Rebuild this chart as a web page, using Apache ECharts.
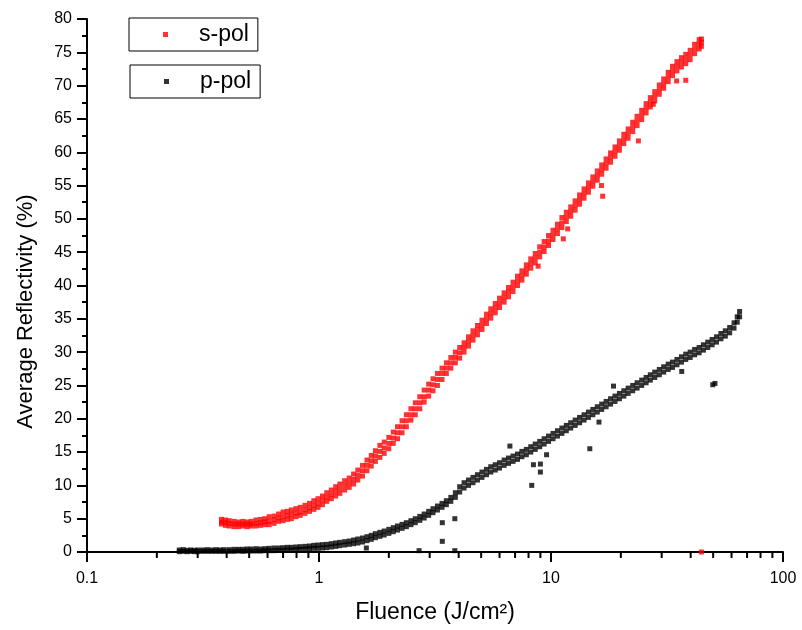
<!DOCTYPE html>
<html>
<head>
<meta charset="utf-8">
<script src="https://cdn.jsdelivr.net/npm/echarts@6/dist/echarts.min.js"></script>
<style>
html,body{margin:0;padding:0;background:#fff;}
#chart{width:802px;height:630px;}
</style>
</head>
<body>
<div id="chart"></div>
<script>
// ---- s-pol (red) band: fluence, upper / middle / lower reflectivity (%)
const sFluence = [0.38,0.395,0.41,0.43,0.45,0.47,0.49,0.51,0.535,0.56,0.585,0.61,0.64,0.67,0.70,0.73,0.76,0.795,0.83,0.87,0.91,0.95,0.99,1.035,1.08,1.13,1.18,1.23,1.29,1.35,1.41,1.47,1.54,1.61,1.68,1.75,1.83,1.91,2.0,2.09,2.18,2.28,2.38,2.49,2.6,2.72,2.84,2.97,3.1,3.24,3.39,3.54,3.7,3.87,4.04,4.22,4.41,4.61,4.82,5.04,5.27,5.5,5.75,6.0,6.28,6.56,6.86,7.17,7.49,7.83,8.18,8.55,8.94,9.34,9.76,10.2,10.66,11.14,11.64,12.16,12.71,13.28,13.88,14.5,15.15,15.83,16.54,17.28,18.06,18.87,19.72,20.6,21.5,22.5,23.5,24.6,25.7,26.8,28.0,29.3,30.6,32.0,33.4,34.9,36.5,38.1,39.8,41.6,43.5,44.5];
const sUpper = [4.9,4.8,4.7,4.6,4.5,4.6,4.5,4.6,4.8,4.9,5.0,5.3,5.4,5.7,6.0,6.1,6.3,6.5,6.7,7.0,7.3,7.7,8.0,8.4,8.9,9.3,9.8,10.2,10.7,11.1,11.7,12.3,13.0,13.8,14.5,15.2,16.0,16.5,17.2,18.0,18.8,19.7,20.6,21.5,22.4,23.3,24.3,25.2,26.0,26.8,27.6,28.4,29.2,30.0,30.7,31.4,32.3,33.2,34.0,34.8,35.7,36.5,37.3,38.1,38.9,39.7,40.5,41.4,42.2,43.1,44.0,44.8,45.8,46.6,47.5,48.3,49.2,50.2,51.0,51.8,52.7,53.6,54.5,55.4,56.3,57.2,58.1,59.0,59.9,60.8,61.7,62.7,63.5,64.5,65.4,66.3,67.3,68.2,69.1,70.1,71.0,72.0,72.9,73.6,74.2,74.7,75.3,76.2,76.9,77.0];
const sMid = [4.5,4.4,4.3,4.2,4.2,4.2,4.2,4.2,4.3,4.4,4.5,4.6,4.85,5.1,5.3,5.5,5.65,5.85,6.0,6.35,6.65,7.0,7.3,7.75,8.2,8.6,9.1,9.5,10.0,10.4,10.9,11.5,12.2,13.0,13.7,14.4,15.1,15.6,16.3,17.1,17.9,18.8,19.7,20.6,21.5,22.4,23.3,24.3,25.1,25.9,26.8,27.6,28.4,29.2,29.9,30.7,31.6,32.5,33.3,34.1,35.0,35.8,36.6,37.4,38.2,39.0,39.8,40.7,41.5,42.4,43.3,44.1,45.0,45.8,46.7,47.6,48.5,49.4,50.3,51.1,52.0,52.9,53.8,54.7,55.6,56.5,57.4,58.3,59.2,60.1,61.0,62.0,62.8,63.8,64.7,65.6,66.6,67.5,68.4,69.4,70.3,71.3,72.2,72.9,73.5,74.0,74.6,75.5,76.2,76.5];
const sLower = [4.2,4.0,3.9,3.8,3.8,3.9,3.8,3.9,3.9,4.0,4.1,4.1,4.3,4.6,4.7,4.9,5.0,5.3,5.5,5.8,6.1,6.4,6.7,7.1,7.6,8.0,8.4,8.8,9.3,9.7,10.2,10.8,11.4,12.2,12.9,13.6,14.2,14.8,15.5,16.3,17.0,17.9,18.8,19.8,20.6,21.5,22.5,23.4,24.2,25.0,25.9,26.8,27.6,28.4,29.1,30.0,30.9,31.8,32.6,33.4,34.3,35.1,35.9,36.7,37.5,38.3,39.1,40.0,40.8,41.7,42.6,43.4,44.3,45.1,46.0,46.9,47.8,48.7,49.6,50.4,51.3,52.2,53.1,54.0,54.9,55.8,56.7,57.6,58.5,59.4,60.3,61.3,62.1,63.1,64.0,64.9,65.9,66.8,67.7,68.7,69.6,70.6,71.5,72.2,72.8,73.3,73.9,74.8,75.5,75.9];
const sOutliers = [[34.8,70.7],[38.1,70.8],[23.8,61.7],[16.5,55.0],[16.7,53.4],[27.6,67.2],[11.8,48.5],[11.3,47.0],[8.8,42.9],[44.5,0]];

// ---- p-pol (black) band: fluence, upper / lower reflectivity (%)
const pFluence = [0.25,0.26,0.27,0.28,0.29,0.30,0.315,0.33,0.345,0.36,0.375,0.39,0.41,0.43,0.45,0.47,0.49,0.51,0.535,0.56,0.585,0.61,0.64,0.67,0.70,0.73,0.76,0.795,0.83,0.87,0.91,0.95,0.99,1.035,1.08,1.13,1.18,1.23,1.29,1.35,1.41,1.47,1.54,1.61,1.68,1.75,1.83,1.91,2.0,2.09,2.18,2.28,2.38,2.49,2.6,2.72,2.84,2.97,3.1,3.24,3.39,3.54,3.7,3.87,4.04,4.22,4.41,4.61,4.82,5.04,5.27,5.5,5.75,6.0,6.28,6.56,6.86,7.17,7.49,7.83,8.18,8.55,8.94,9.34,9.76,10.2,10.66,11.14,11.64,12.16,12.71,13.28,13.88,14.5,15.15,15.83,16.54,17.28,18.06,18.87,19.72,20.6,21.5,22.5,23.5,24.6,25.7,26.8,28.0,29.3,30.6,32.0,33.4,34.9,36.5,38.1,39.8,41.6,43.5,45.4,47.4,49.5,51.7,54.0,56.4,58.9,61.5,63.5,65.0];
const pUpper = [0.3,0.35,0.25,0.3,0.25,0.3,0.3,0.35,0.3,0.35,0.3,0.35,0.35,0.4,0.4,0.4,0.45,0.45,0.5,0.45,0.5,0.55,0.6,0.6,0.65,0.7,0.7,0.75,0.8,0.85,0.9,1.0,1.05,1.1,1.15,1.25,1.35,1.45,1.55,1.65,1.8,1.95,2.1,2.3,2.5,2.75,2.95,3.15,3.4,3.65,3.9,4.15,4.4,4.7,5.0,5.35,5.7,6.1,6.5,6.9,7.3,7.7,8.2,8.9,9.8,10.4,10.8,11.2,11.6,12.0,12.4,12.8,13.1,13.4,13.8,14.1,14.4,14.7,15.1,15.4,15.8,16.2,16.6,17.0,17.4,17.8,18.2,18.6,19.0,19.4,19.8,20.2,20.6,21.0,21.4,21.8,22.2,22.6,23.0,23.4,23.8,24.2,24.6,25.0,25.4,25.8,26.2,26.6,27.0,27.4,27.8,28.2,28.5,28.9,29.3,29.7,30.0,30.4,30.7,31.1,31.5,31.9,32.3,32.8,33.2,33.7,34.4,35.3,36.1];
const pLower = [0.05,0.1,0.05,0.1,0.05,0.05,0.1,0.1,0.1,0.1,0.1,0.1,0.1,0.1,0.15,0.1,0.15,0.15,0.15,0.15,0.2,0.2,0.2,0.25,0.25,0.3,0.3,0.35,0.4,0.45,0.5,0.55,0.55,0.6,0.65,0.75,0.85,0.95,1.05,1.15,1.25,1.35,1.5,1.7,1.9,2.15,2.35,2.55,2.8,3.05,3.3,3.55,3.8,4.1,4.4,4.75,5.1,5.5,5.9,6.3,6.7,7.1,7.6,8.2,9.0,9.6,10.0,10.4,10.8,11.2,11.6,12.0,12.3,12.6,13.0,13.3,13.6,13.9,14.3,14.6,15.0,15.4,15.8,16.2,16.6,17.0,17.4,17.8,18.2,18.6,19.0,19.4,19.8,20.2,20.6,21.0,21.4,21.8,22.2,22.6,23.0,23.4,23.8,24.2,24.6,25.0,25.4,25.8,26.2,26.6,27.0,27.4,27.7,28.1,28.5,28.9,29.2,29.6,29.9,30.3,30.7,31.1,31.5,32.0,32.4,32.9,33.6,34.5,35.3];
const pOutliers = [[3.4,4.4],[3.85,5.0],[3.4,1.6],[3.85,0.2],[8.26,10.0],[1.6,0.6],[2.7,0.2],[6.65,15.9],[9.57,14.6],[8.4,13.1],[9.0,13.2],[9.0,12.0],[14.7,15.5],[16.1,19.5],[18.6,24.9],[36.6,27.1],[49.8,25.1],[50.9,25.3]];

// ---- axis ticks
const xMinorTicks = [0.2,0.3,0.4,0.5,0.6,0.7,0.8,0.9,2,3,4,5,6,7,8,9,20,30,40,50,60,70,80,90];

const FONT = '"Liberation Sans", Arial, sans-serif';

const sData = sFluence.flatMap((x, i) => [[x, sUpper[i]], [x, sMid[i]], [x, sLower[i]]]).concat(sOutliers);
const pData = pFluence.flatMap((x, i) => [[x, pUpper[i]], [x, pLower[i]]]).concat(pOutliers);

const chart = echarts.init(document.getElementById('chart'), null, {renderer: 'canvas'});

const legendBase = {
  orient: 'horizontal',
  icon: 'rect',
  itemWidth: 5,
  itemHeight: 5,
  selectedMode: false,
  borderColor: '#000',
  borderWidth: 1,
  backgroundColor: '#fff',
  padding: [5, 9, 5, 34],
  textStyle: {fontSize: 23, fontFamily: FONT, color: '#000', padding: [0, 0, 0, 26]}
};

chart.setOption({
  animation: false,
  backgroundColor: '#fff',
  grid: {left: 87, right: 19, top: 19, bottom: 78},
  legend: [
    Object.assign({}, legendBase, {data: ['s-pol'], left: 129, top: 18}),
    Object.assign({}, legendBase, {data: ['p-pol'], left: 130, top: 65})
  ],
  xAxis: {
    type: 'log',
    logBase: 10,
    min: 0.1,
    max: 100,
    name: 'Fluence (J/cm²)',
    nameLocation: 'middle',
    nameGap: 49,
    nameTextStyle: {fontSize: 23, fontFamily: FONT, color: '#000'},
    axisLine: {show: true, onZero: false, lineStyle: {color: '#000', width: 2}},
    axisTick: {show: true, inside: false, length: 10, lineStyle: {color: '#000', width: 2}},
    minorTick: {show: false},
    splitLine: {show: false},
    minorSplitLine: {show: false},
    axisLabel: {fontSize: 16, fontFamily: FONT, color: '#000', margin: 19}
  },
  yAxis: {
    type: 'value',
    min: 0,
    max: 80,
    interval: 5,
    name: 'Average Reflectivity (%)',
    nameLocation: 'middle',
    nameGap: 50,
    nameTextStyle: {fontSize: 22, fontFamily: FONT, color: '#000', padding: [0, 52, 0, 0]},
    axisLine: {show: true, onZero: false, lineStyle: {color: '#000', width: 2}},
    axisTick: {show: true, inside: false, length: 10, lineStyle: {color: '#000', width: 2}},
    minorTick: {show: true, splitNumber: 2, length: 5, lineStyle: {color: '#000', width: 2}},
    splitLine: {show: false},
    minorSplitLine: {show: false},
    axisLabel: {fontSize: 16, fontFamily: FONT, color: '#000', margin: 15}
  },
  series: [
    {
      name: 's-pol',
      type: 'scatter',
      symbol: 'rect',
      symbolSize: 5,
      itemStyle: {color: '#ff0000'},
      data: sData,
      z: 3
    },
    {
      name: 'p-pol',
      type: 'scatter',
      symbol: 'rect',
      symbolSize: 5,
      itemStyle: {color: '#000000'},
      data: pData,
      z: 3
    },
    {
      name: 'xMinor',
      type: 'custom',
      clip: false,
      silent: true,
      z: 5,
      data: xMinorTicks.map(v => [v, 0]),
      renderItem: function (params, api) {
        const p = api.coord([api.value(0), 0]);
        return {
          type: 'line',
          shape: {x1: p[0], y1: p[1], x2: p[0], y2: p[1] + 6},
          style: {stroke: '#000', lineWidth: 2}
        };
      }
    }
  ]
});
</script>
</body>
</html>
